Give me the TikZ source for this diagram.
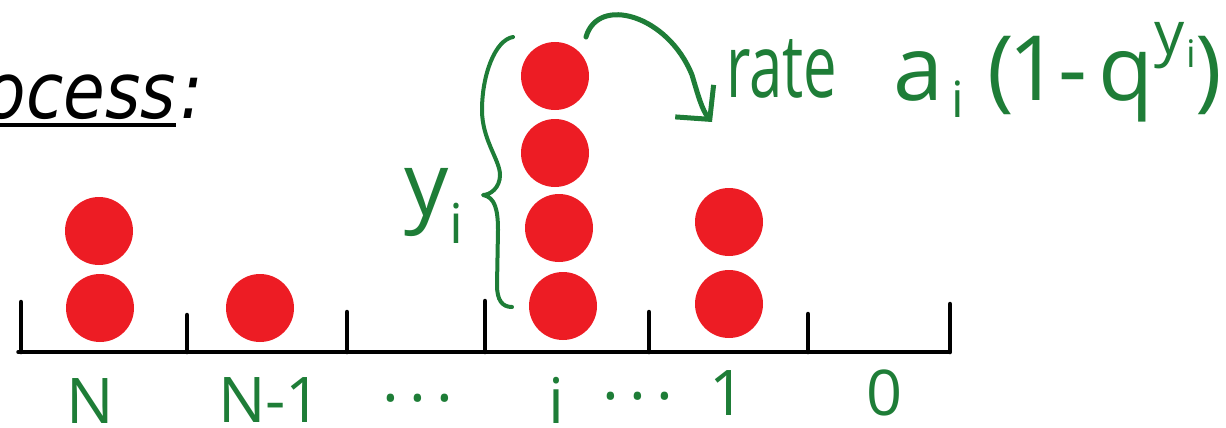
\documentclass[tikz,border=0pt]{standalone}
\usepackage{fontspec}
\setmainfont{Open Sans}
\newfontfamily\procfont{DejaVu Sans}
\usetikzlibrary{arrows.meta}
\definecolor{ink}{RGB}{30,125,55}
\definecolor{ballred}{RGB}{237,28,36}
\begin{document}
\begin{tikzpicture}[x=1pt,y=-1pt,
  ball/.style={circle,fill=ballred,minimum size=68pt,inner sep=0pt},
  tickmark/.style={line width=4.5pt,line cap=round},
  axisline/.style={line width=3.5pt,line cap=round},
  hand/.style={text=ink,inner sep=0pt},
  inkline/.style={draw=ink,line width=5pt,line cap=round,line join=round},
  biglabel/.style={hand,text depth=0pt,font=\fontsize{63}{70}\selectfont},
  proctext/.style={inner sep=0pt,font=\procfont\itshape\fontsize{78}{86}\selectfont}]
\useasboundingbox (0,0) rectangle (1226,428);
\clip (0,0) rectangle (1226,428);

% title (cut at the left edge)
\node[proctext,anchor=base east] (proc) at (176,118) {\scalebox{0.87}[1]{Process}};
\node[proctext,anchor=base west] (colon) at ([xshift=4pt]proc.base east) {\scalebox{0.87}[1]{:}};
\draw[line width=4pt] ([yshift=-7pt]proc.base west) -- ([yshift=-7pt]proc.base east);

% axis
\coordinate (a0) at (18,352);
\coordinate (a1) at (950,352);
\draw[axisline] (a0) -- (a1);
\foreach \x/\t in {21/302,187/315,347/312,485/301,649/312,808/314,950/304}
  \draw[tickmark] (\x,352) -- (\x,\t);

% balls
\node[ball] (n2) at (99,231) {};
\node[ball] (n1) at (100,308) {};
\node[ball] (m1) at (260,308) {};
\node[ball] (c4) at (555,76) {};
\node[ball] (c3) at (555,153) {};
\node[ball] (c2) at (559,228) {};
\node[ball] (c1) at (563,306) {};
\node[ball] (o2) at (729,222) {};
\node[ball] (o1) at (729,304) {};

% labels below axis
\node[biglabel,anchor=base] (lN) at (90,423) {N};
\node[biglabel,anchor=base west] (lN1) at (218,422) {N-1};
\node[biglabel,anchor=base] (ld1) at (418,420) {·\,·\,·};
\node[biglabel,anchor=base] (li) at (556,423) {i};
\node[biglabel,anchor=base] (ld2) at (638,418) {·\,·\,·};
\node[biglabel,anchor=base] (l1) at (728,415) {1};
\node[biglabel,anchor=base] (l0) at (885,415) {0};

% y_i with brace
\node[hand,anchor=base west,font=\fontsize{88}{96}\selectfont] (yl) at (404,215)
  {y\hspace{1pt}\raisebox{-28pt}{\fontsize{55}{60}\selectfont i}};
\draw[inkline,line width=4pt] (513,37) .. controls (495,40) and (482,75) .. (482,110)
  .. controls (482,140) and (500,160) .. (500,175)
  .. controls (500,188) and (490,195) .. (483,195)
  .. controls (495,197) and (498,210) .. (498,230) -- (497,285)
  .. controls (497,300) and (502,307) .. (512,307);

% rate label
\node[hand,anchor=base west,font=\fontsize{88}{96}\selectfont] (rate) at (726,97)
  {\scalebox{0.68}[1]{rate}};
\node[hand,anchor=base west,font=\fontsize{90}{100}\selectfont] (formula) at (893,100)
  {a\hspace{8pt}\raisebox{-17pt}{\fontsize{50}{55}\selectfont i}\hspace{24pt}(\hspace{-6pt}1\hspace{-2pt}-\hspace{12pt}q\hspace{0pt}\raisebox{46pt}{\fontsize{60}{66}\selectfont y\hspace{2pt}\raisebox{-13pt}{\fontsize{38}{42}\selectfont i}})};

% arrow from the top ball
\coordinate (tip) at (712,122);
\draw[inkline,-{Straight Barb[length=24pt,width=50pt,line width=5pt]}]
  ([shift={(31,-39)}]c4.center) .. controls (598,-5) and (668,15) .. (692,75)
  .. controls (698,95) and (702,110) .. (tip);
\end{tikzpicture}
\end{document}
